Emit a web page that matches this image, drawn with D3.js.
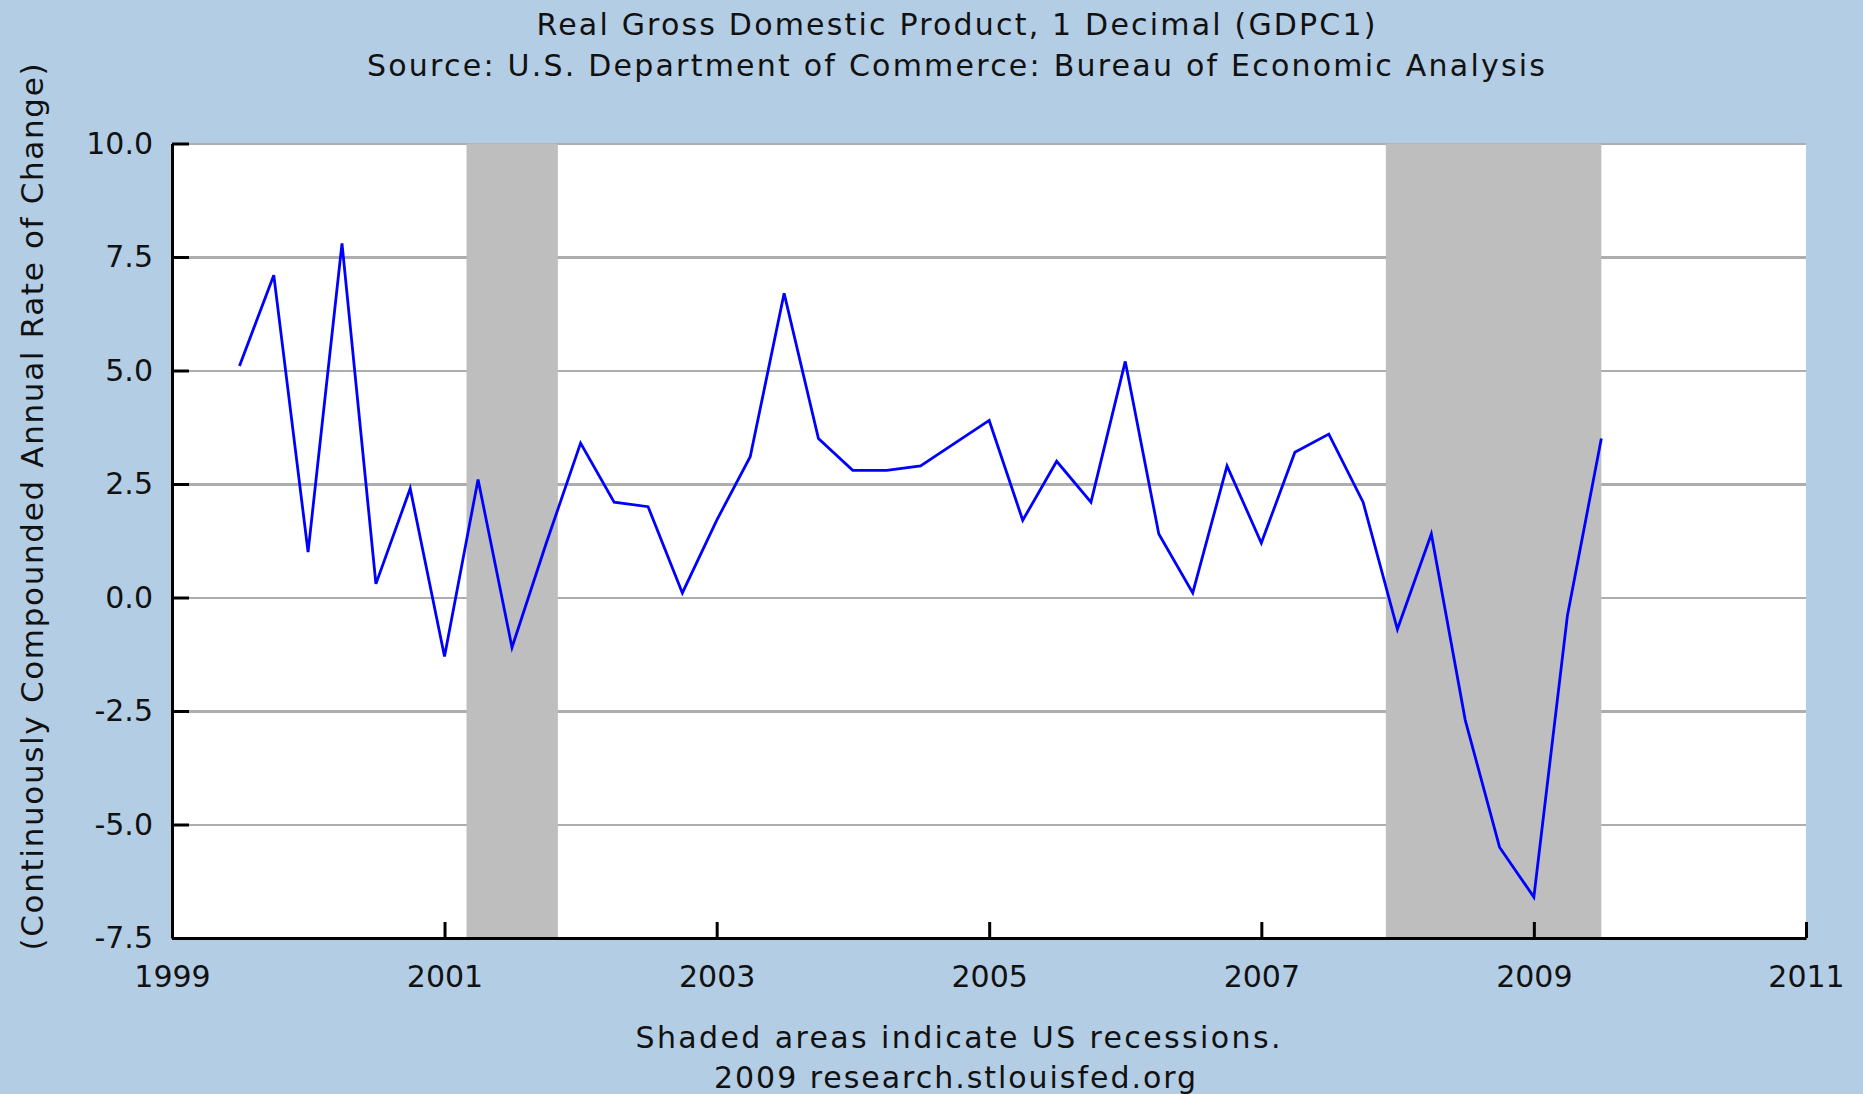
<!DOCTYPE html>
<html>
<head>
<meta charset="utf-8">
<script src="https://cdn.jsdelivr.net/npm/d3@7"></script>
<style>
  html, body { margin: 0; padding: 0; background: #b3cde5; }
  svg { display: block; font-family: "DejaVu Sans", Verdana, sans-serif; }
</style>
</head>
<body>
<svg id="chart" width="1863" height="1094"></svg>
<script>
// quarterly observations (start of quarter)
var quarters = [
  "1999-07-01", "1999-10-01",
  "2000-01-01", "2000-04-01", "2000-07-01", "2000-10-01",
  "2001-01-01", "2001-04-01", "2001-07-01", "2001-10-01",
  "2002-01-01", "2002-04-01", "2002-07-01", "2002-10-01",
  "2003-01-01", "2003-04-01", "2003-07-01", "2003-10-01",
  "2004-01-01", "2004-04-01", "2004-07-01", "2004-10-01",
  "2005-01-01", "2005-04-01", "2005-07-01", "2005-10-01",
  "2006-01-01", "2006-04-01", "2006-07-01", "2006-10-01",
  "2007-01-01", "2007-04-01", "2007-07-01", "2007-10-01",
  "2008-01-01", "2008-04-01", "2008-07-01", "2008-10-01",
  "2009-01-01", "2009-04-01", "2009-07-01"
];
var gdpChange = [
  5.1, 7.1,
  1.0, 7.8, 0.3, 2.4,
  -1.3, 2.6, -1.1, 1.2,
  3.4, 2.1, 2.0, 0.1,
  1.7, 3.1, 6.7, 3.5,
  2.8, 2.8, 2.9, 3.4,
  3.9, 1.7, 3.0, 2.1,
  5.2, 1.4, 0.1, 2.9,
  1.2, 3.2, 3.6, 2.1,
  -0.7, 1.4, -2.7, -5.5,
  -6.6, -0.4, 3.5
];

// US recessions (shaded)
var recessionStart = ["2001-03-01", "2007-12-01"];
var recessionEnd   = ["2001-11-01", "2009-07-01"];

var yTicks = [-7.5, -5.0, -2.5, 0.0, 2.5, 5.0, 7.5, 10.0];
var xTickYears = [1999, 2001, 2003, 2005, 2007, 2009, 2011];

var titleText = "Real Gross Domestic Product, 1 Decimal (GDPC1)";
var subtitleText = "Source: U.S. Department of Commerce: Bureau of Economic Analysis";
var yLabelText = "(Continuously Compounded Annual Rate of Change)";
var noteText = "Shaded areas indicate US recessions.";
var creditText = "2009 research.stlouisfed.org";

var parse = d3.timeParse("%Y-%m-%d");
var data = quarters.map(function (q, i) { return { date: parse(q), value: gdpChange[i] }; });
var recessions = recessionStart.map(function (s, i) { return { start: parse(s), end: parse(recessionEnd[i]) }; });

var plotLeft = 172, plotRight = 1806, plotTop = 143.5, plotBottom = 938;

var svg = d3.select("#chart");

svg.append("rect")
    .attr("width", 1863).attr("height", 1094)
    .attr("fill", "#b3cde5");

var x = d3.scaleTime()
    .domain([new Date(1999, 0, 1), new Date(2011, 0, 1)])
    .range([plotLeft, plotRight]);

var y = d3.scaleLinear()
    .domain([-7.5, 10])
    .range([plotBottom, plotTop]);

// plain hyphen for negatives, like the original
var fmt = d3.formatLocale({ decimal: ".", thousands: ",", grouping: [3], currency: ["$", ""], minus: "-" }).format(".1f");

// plot area
svg.append("rect")
    .attr("x", plotLeft).attr("y", plotTop)
    .attr("width", plotRight - plotLeft).attr("height", plotBottom - plotTop)
    .attr("fill", "#ffffff");

// grid lines
var grid = svg.append("g")
    .attr("transform", "translate(" + plotLeft + ",0)")
    .call(d3.axisRight(y).tickValues(yTicks).tickSize(plotRight - plotLeft).tickFormat(""));
grid.select(".domain").remove();
grid.selectAll("line")
    .attr("stroke", "#adadad")
    .attr("stroke-width", 2.5)
    .attr("shape-rendering", "crispEdges");

// recession bars
svg.append("g").selectAll("rect")
    .data(recessions)
    .enter().append("rect")
    .attr("x", function (d) { return x(d.start); })
    .attr("y", plotTop)
    .attr("width", function (d) { return x(d.end) - x(d.start); })
    .attr("height", plotBottom - plotTop)
    .attr("fill", "#bebebe");

// series
var line = d3.line()
    .x(function (d) { return x(d.date); })
    .y(function (d) { return y(d.value); });

svg.append("path")
    .datum(data)
    .attr("d", line)
    .attr("fill", "none")
    .attr("stroke", "#0000ff")
    .attr("stroke-width", 2.8)
    .attr("stroke-linejoin", "miter");

// y axis
var yAxis = svg.append("g")
    .attr("transform", "translate(" + plotLeft + ",0)")
    .call(d3.axisLeft(y)
        .tickValues(yTicks)
        .tickSizeInner(-17)
        .tickSizeOuter(0)
        .tickPadding(19)
        .tickFormat(fmt));

// x axis
var xAxis = svg.append("g")
    .attr("transform", "translate(0," + plotBottom + ")")
    .call(d3.axisBottom(x)
        .tickValues(xTickYears.map(function (yr) { return new Date(yr, 0, 1); }))
        .tickSizeInner(-16)
        .tickSizeOuter(0)
        .tickPadding(28)
        .tickFormat(d3.timeFormat("%Y")));

[yAxis, xAxis].forEach(function (ax) {
    ax.select(".domain").attr("stroke", "#000").attr("stroke-width", 3);
    ax.selectAll(".tick line").attr("stroke", "#000").attr("stroke-width", 3);
    ax.selectAll(".tick text")
        .attr("fill", "#111")
        .style("font-size", "30px")
        .style("font-family", "'DejaVu Sans', Verdana, sans-serif");
});

// titles and notes
function label(txt, px, py, len) {
    return svg.append("text")
        .attr("x", px).attr("y", py)
        .attr("text-anchor", "middle")
        .attr("fill", "#111")
        .attr("textLength", len)
        .attr("lengthAdjust", "spacing")
        .style("font-size", "30px")
        .text(txt);
}

label(titleText, 956, 35, 839);
label(subtitleText, 956, 76, 1178);
label(noteText, 958, 1048, 645);
label(creditText, 955, 1088, 482);

svg.append("text")
    .attr("transform", "translate(43,507) rotate(-90)")
    .attr("text-anchor", "middle")
    .attr("fill", "#111")
    .attr("textLength", 887)
    .attr("lengthAdjust", "spacing")
    .style("font-size", "31px")
    .text(yLabelText);
</script>
</body>
</html>
